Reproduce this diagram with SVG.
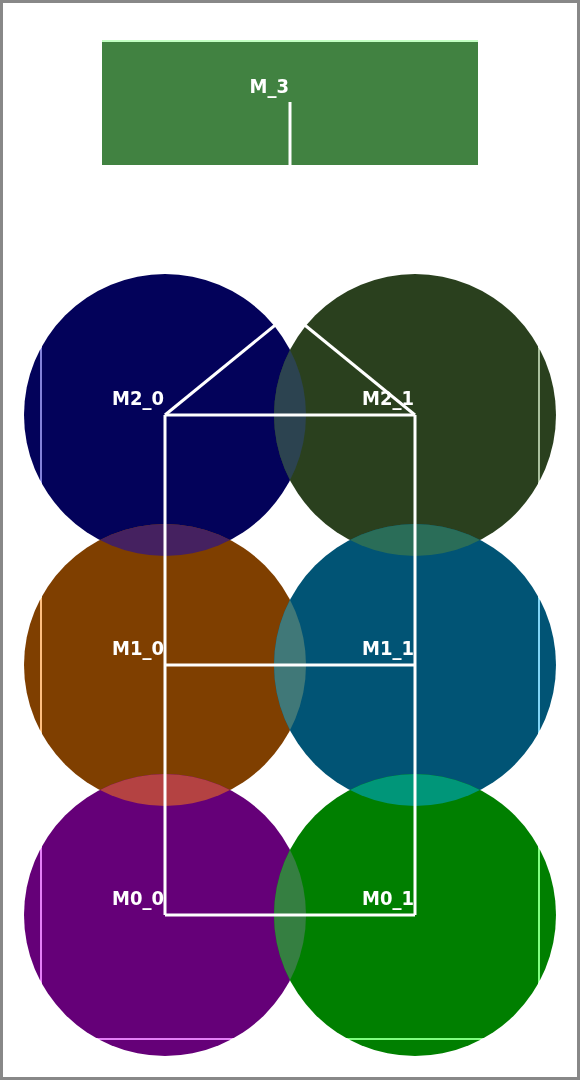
<svg xmlns="http://www.w3.org/2000/svg" width="580" height="1080" viewBox="0 0 580 1080">
<style>
.lbl{font-family:"DejaVu Sans Condensed","DejaVu Sans",sans-serif;font-stretch:condensed;font-weight:bold;font-size:20px;fill:#ffffff;text-anchor:end}
.edge{stroke:#ffffff;stroke-width:3;fill:none}
.frame{fill:none;stroke:#808080;stroke-width:2;mix-blend-mode:plus-lighter}
</style>
<defs>
<clipPath id="c20"><circle cx="165" cy="415" r="141"/></clipPath>
<clipPath id="c21"><circle cx="415" cy="415" r="141"/></clipPath>
<clipPath id="c10"><circle cx="165" cy="665" r="141"/></clipPath>
<clipPath id="c11"><circle cx="415" cy="665" r="141"/></clipPath>
<clipPath id="c00"><circle cx="165" cy="915" r="141"/></clipPath>
</defs>
<rect x="0" y="0" width="580" height="1080" fill="#ffffff"/>
<g id="M_3"><rect x="102" y="40" width="376" height="125" fill="#418241"/><text class="lbl" x="289" y="93">M_3</text></g>
<g id="M2_0"><circle cx="165" cy="415" r="141" fill="#03025a"/><text class="lbl" x="164" y="405">M2_0</text></g>
<g id="M2_1"><circle cx="415" cy="415" r="141" fill="#2a401e"/><text class="lbl" x="414" y="405">M2_1</text></g>
<g id="M1_0"><circle cx="165" cy="665" r="141" fill="#7f3f00"/><text class="lbl" x="164" y="655">M1_0</text></g>
<g id="M1_1"><circle cx="415" cy="665" r="141" fill="#015475"/><text class="lbl" x="414" y="655">M1_1</text></g>
<g id="M0_0"><circle cx="165" cy="915" r="141" fill="#650078"/><text class="lbl" x="164" y="905">M0_0</text></g>
<g id="M0_1"><circle cx="415" cy="915" r="141" fill="#007f00"/><text class="lbl" x="414" y="905">M0_1</text></g>
<g id="overlaps">
<circle cx="165" cy="665" r="141" fill="#452160" clip-path="url(#c20)"/>
<circle cx="165" cy="915" r="141" fill="#b44242" clip-path="url(#c10)"/>
<circle cx="415" cy="665" r="141" fill="#2a6d58" clip-path="url(#c21)"/>
<circle cx="415" cy="915" r="141" fill="#009679" clip-path="url(#c11)"/>
<circle cx="415" cy="415" r="141" fill="#2c4350" clip-path="url(#c20)"/>
<circle cx="415" cy="665" r="141" fill="#407878" clip-path="url(#c10)"/>
<circle cx="415" cy="915" r="141" fill="#357f41" clip-path="url(#c00)"/>
</g>
<rect class="frame" x="41" y="41" width="498" height="998"/>
<g id="connectors">
<line class="edge" x1="290" y1="102" x2="290" y2="313"/>
<line class="edge" x1="165" y1="415" x2="290" y2="313"/>
<line class="edge" x1="415" y1="415" x2="290" y2="313"/>
<line class="edge" x1="165" y1="415" x2="415" y2="415"/>
<line class="edge" x1="165" y1="415" x2="165" y2="915"/>
<line class="edge" x1="415" y1="415" x2="415" y2="915"/>
<line class="edge" x1="165" y1="665" x2="415" y2="665"/>
<line class="edge" x1="165" y1="915" x2="415" y2="915"/>
</g>
<rect x="1.5" y="1.5" width="577" height="1077" fill="none" stroke="#888888" stroke-width="3"/>
</svg>
